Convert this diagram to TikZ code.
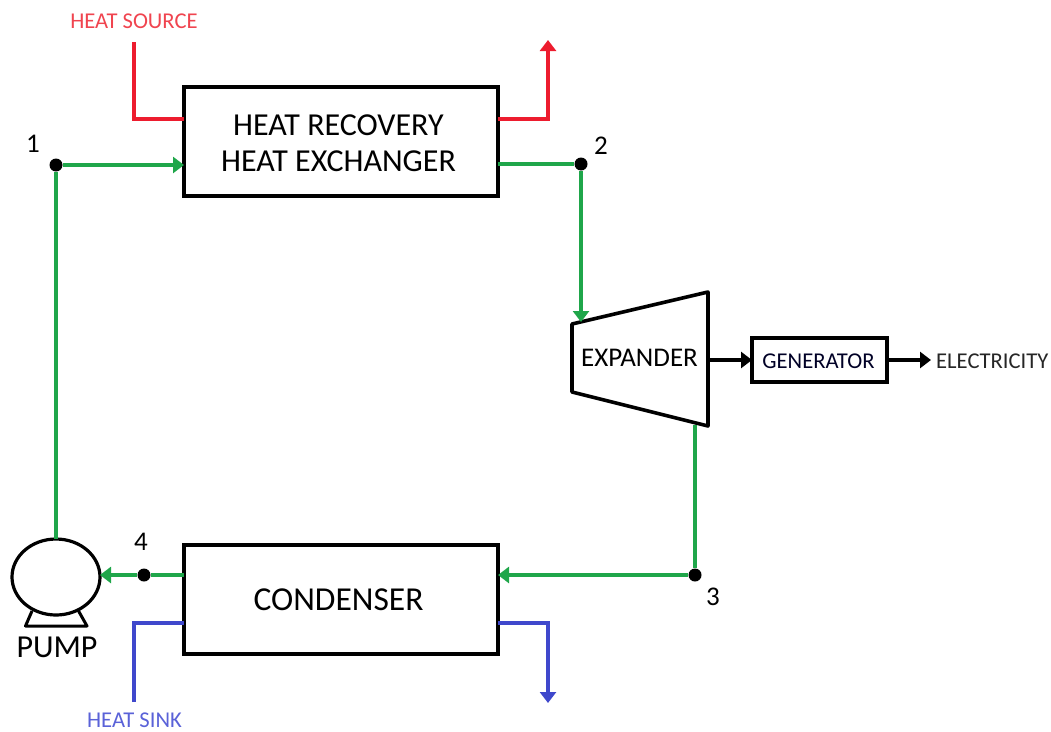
\documentclass[tikz,border=0pt]{standalone}
\usepackage{fontspec}
\setmainfont{Carlito}
\usetikzlibrary{arrows.meta,shapes.geometric}
\definecolor{flowgreen}{HTML}{1FA64A}
\definecolor{hotred}{HTML}{ED1C2E}
\definecolor{coldblue}{HTML}{3F48CC}
\definecolor{hotlabel}{HTML}{F0444F}
\definecolor{coldlabel}{HTML}{5A62D8}
\tikzset{
  box/.style={draw=black,line width=3.6pt,fill=white,inner sep=0pt,outer sep=0pt,align=center},
  flow/.style={line width=3.6pt,line join=miter},
  tipped/.style={-{Triangle[length=11pt,width=16pt]}},
  dot/.style={circle,fill=black,inner sep=0pt,minimum size=13pt},
  num/.style={font=\fontsize{27}{30}\selectfont,inner sep=0pt},
  small/.style={font=\fontsize{22.6}{26}\selectfont,inner sep=0pt},
}
\begin{document}
\begin{tikzpicture}[x=1pt,y=-1pt]
\useasboundingbox (0,0) rectangle (1051,731);
% main equipment
\node[box,minimum width=314pt,minimum height=109pt] (hx) at (341,141.5) {};
\node[inner sep=0pt,align=center,font=\fontsize{32}{36.5}\selectfont] (hxlabel) at (338.5,143) {HEAT RECOVERY\\HEAT EXCHANGER};
\node[box,minimum width=314pt,minimum height=109pt] (cond) at (341,599.5) {};
\node[inner sep=0pt,font=\fontsize{33.5}{37}\selectfont] (condlabel) at (338.5,599.5) {CONDENSER};
\node[box,minimum width=135pt,minimum height=44pt] (gen) at (819.5,360) {};
\node[font=\fontsize{22.6}{26}\selectfont,text=black!85!blue,inner sep=0pt] (genlabel) at (818.5,361.5) {GENERATOR};
\coordinate (e1) at (572,324);
\coordinate (e2) at (708,292);
\coordinate (e3) at (708,426);
\coordinate (e4) at (572,392);
\draw[line width=3.6pt,line join=round] (e1) -- (e2) -- (e3) -- (e4) -- cycle;
\node[inner sep=0pt,font=\fontsize{27}{30}\selectfont] (exp) at (639.5,358) {EXPANDER};
% pump
\node[draw=black,line width=3.2pt,ellipse,minimum width=88pt,minimum height=76pt,inner sep=0pt,outer sep=0pt,fill=white] (pump) at (56,577) {};
\coordinate (b1) at (32,611);
\coordinate (b2) at (25.5,626);
\coordinate (b3) at (87,626);
\coordinate (b4) at (78,610);
\draw[line width=3pt,line join=round] (b1) -- (b2) -- (b3) -- (b4);
\node[font=\fontsize{32}{35}\selectfont,inner sep=0pt] (pumplabel) at (57,647) {PUMP};
% state points
\node[dot] (p1) at (56,165) {};
\node[dot] (p2) at (581,164) {};
\node[dot] (p3) at (695,575) {};
\node[dot] (p4) at (144,575) {};
\node[num] (n1) at (33,144) {1};
\node[num] (n2) at (601,146) {2};
\node[num] (n3) at (713,597) {3};
\node[num] (n4) at (141,542) {4};
% working fluid
\coordinate (expin) at (581,322);
\coordinate (expout) at (695,425);
\draw[flow,flowgreen] (pump.north) -- (p1);
\draw[flow,flowgreen,tipped] (p1) -- (p1 -| hx.west);
\draw[flow,flowgreen] (p2 -| hx.east) -- (p2);
\draw[flow,flowgreen,tipped] (p2) -- (expin);
\draw[flow,flowgreen] (expout) -- (p3);
\draw[flow,flowgreen,tipped] (p3) -- (p3 -| cond.east);
\draw[flow,flowgreen] (p4 -| cond.west) -- (p4);
\draw[flow,flowgreen,tipped] (p4) -- (pump.east |- p4);
% heat source
\node[small,text=hotlabel] (src) at (134,21) {HEAT SOURCE};
\coordinate (srcend) at (134,42);
\coordinate (rl) at (134,119);
\coordinate (rr) at (548,119);
\coordinate (redend) at (548,40);
\draw[flow,hotred] (srcend) -- (rl) -- (rl -| hx.west);
\draw[flow,hotred,tipped] (rr -| hx.east) -- (rr) -- (redend);
% heat sink
\node[small,text=coldlabel] (snk) at (134.5,720) {HEAT SINK};
\coordinate (snkend) at (134,702);
\coordinate (bl) at (134,623);
\coordinate (br) at (548,623);
\coordinate (blueend) at (548,703);
\draw[flow,coldblue] (snkend) -- (bl) -- (bl -| cond.west);
\draw[flow,coldblue,tipped] (br -| cond.east) -- (br) -- (blueend);
% power
\coordinate (shaft) at (708,360);
\coordinate (elec) at (931,360);
\draw[flow,black,tipped] (shaft) -- (gen.west);
\draw[flow,black,tipped] (gen.east) -- (elec);
\node[small,anchor=west,text=black!85] (el) at (936,361) {ELECTRICITY};
\end{tikzpicture}
\end{document}
